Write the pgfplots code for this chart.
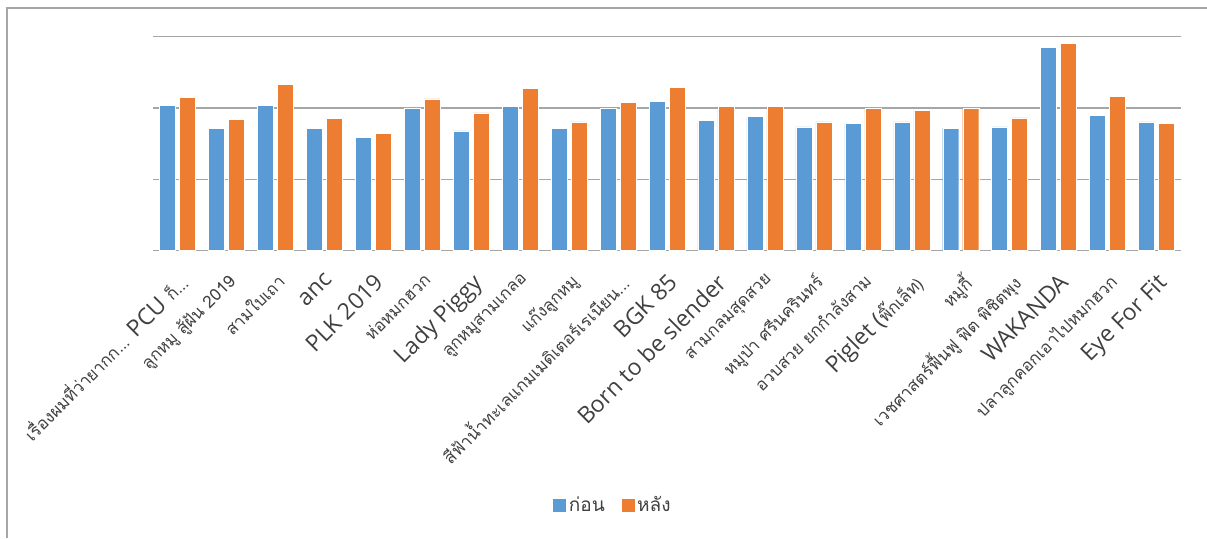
\documentclass[border=0pt]{standalone}
\usepackage{pgfplots}
\pgfplotsset{compat=1.18}
\usepackage{fontspec}
\setmainfont{Open Sans}
\newfontfamily\thaifont[Script=Thai]{Loma}
\newcommand{\T}[1]{{\thaifont\fontsize{17pt}{20pt}\selectfont #1}}
\definecolor{cblue}{HTML}{5B9BD5}
\definecolor{corange}{HTML}{ED7D31}
\definecolor{cgrid}{HTML}{A6A6A6}
\definecolor{ctext}{HTML}{404040}
\begin{document}
\begin{tikzpicture}
\path[use as bounding box] (0,0) rectangle (1207pt,538pt);
\draw[cgrid, line width=1.4pt] (7pt,0) -- (7pt,530pt) -- (1207pt,530pt);
\begin{axis}[
  at={(153pt,287.4pt)}, anchor=south west,
  width=1028pt, height=214pt, scale only axis,
  xmin=-0.5, xmax=20.5, ymin=0, ymax=3,
  ytick={0,1,2,3}, yticklabels={}, ymajorgrids,
  grid style={cgrid, line width=1.3pt},
  axis lines=left, axis line style={draw=none},
  major tick length=0pt, tick style={draw=none},
  xtick={0,...,20},
  xticklabels={
    {\T{เรื่องผมที่ว่ายากก...} PCU \T{ก็...}},
    {\T{ลูกหมู สู้ฝัน 2019}},
    {\T{สามใบเถา}},
    {anc},
    {PLK 2019},
    {\T{ห่อหมกฮวก}},
    {Lady Piggy},
    {\T{ลูกหมูสามเกลอ}},
    {\T{แก๊งลูกหมู}},
    {\T{สีฟ้าน้ำทะเลแกมเมดิเตอร์เรเนียน...}},
    {BGK 85},
    {Born to be slender},
    {\T{สามกลมสุดสวย}},
    {\T{หมูป่า ศรีนครินทร์}},
    {\T{อวบสวย ยกกำลังสาม}},
    {Piglet (\T{พิ๊กเล็ท)}},
    {\T{หมูกี้}},
    {\T{เวชศาสตร์ฟื้นฟู ฟิต พิชิตพุง}},
    {WAKANDA},
    {\T{ปลาลูกคอกเอาไปหมกฮวก}},
    {Eye For Fit}
  },
  xticklabel shift=20pt,
  xticklabel style={rotate=45, anchor=north east, text=ctext, font=\fontsize{23pt}{26pt}\selectfont, inner sep=1pt},
  ybar=4pt, bar width=16pt,
  legend style={at={(0.447,-1.189)}, anchor=center, draw=none, legend columns=2,
    font=\thaifont\fontsize{19pt}{22pt}\selectfont, text=ctext,
    /tikz/every even column/.append style={column sep=14pt}},
  legend image code/.code={\fill[#1] (0pt,-7pt) rectangle (14pt,7pt);},
]
\addplot[fill=cblue, draw=white, line width=0.4pt] coordinates {
(0,2.037) (1,1.715) (2,2.037) (3,1.715) (4,1.589) (5,1.995) (6,1.678) (7,2.019) (8,1.715) (9,2.000)
(10,2.093) (11,1.827) (12,1.879) (13,1.734) (14,1.785) (15,1.804) (16,1.715) (17,1.734) (18,2.850) (19,1.893) (20,1.804)};
\addplot[fill=corange, draw=white, line width=0.4pt] coordinates {
(0,2.145) (1,1.841) (2,2.327) (3,1.855) (4,1.640) (5,2.126) (6,1.930) (7,2.271) (8,1.804) (9,2.075)
(10,2.290) (11,2.023) (12,2.023) (13,1.804) (14,1.991) (15,1.967) (16,1.991) (17,1.860) (18,2.902) (19,2.164) (20,1.785)};
\legend{ก่อน,หลัง}
\end{axis}
\end{tikzpicture}
\end{document}
